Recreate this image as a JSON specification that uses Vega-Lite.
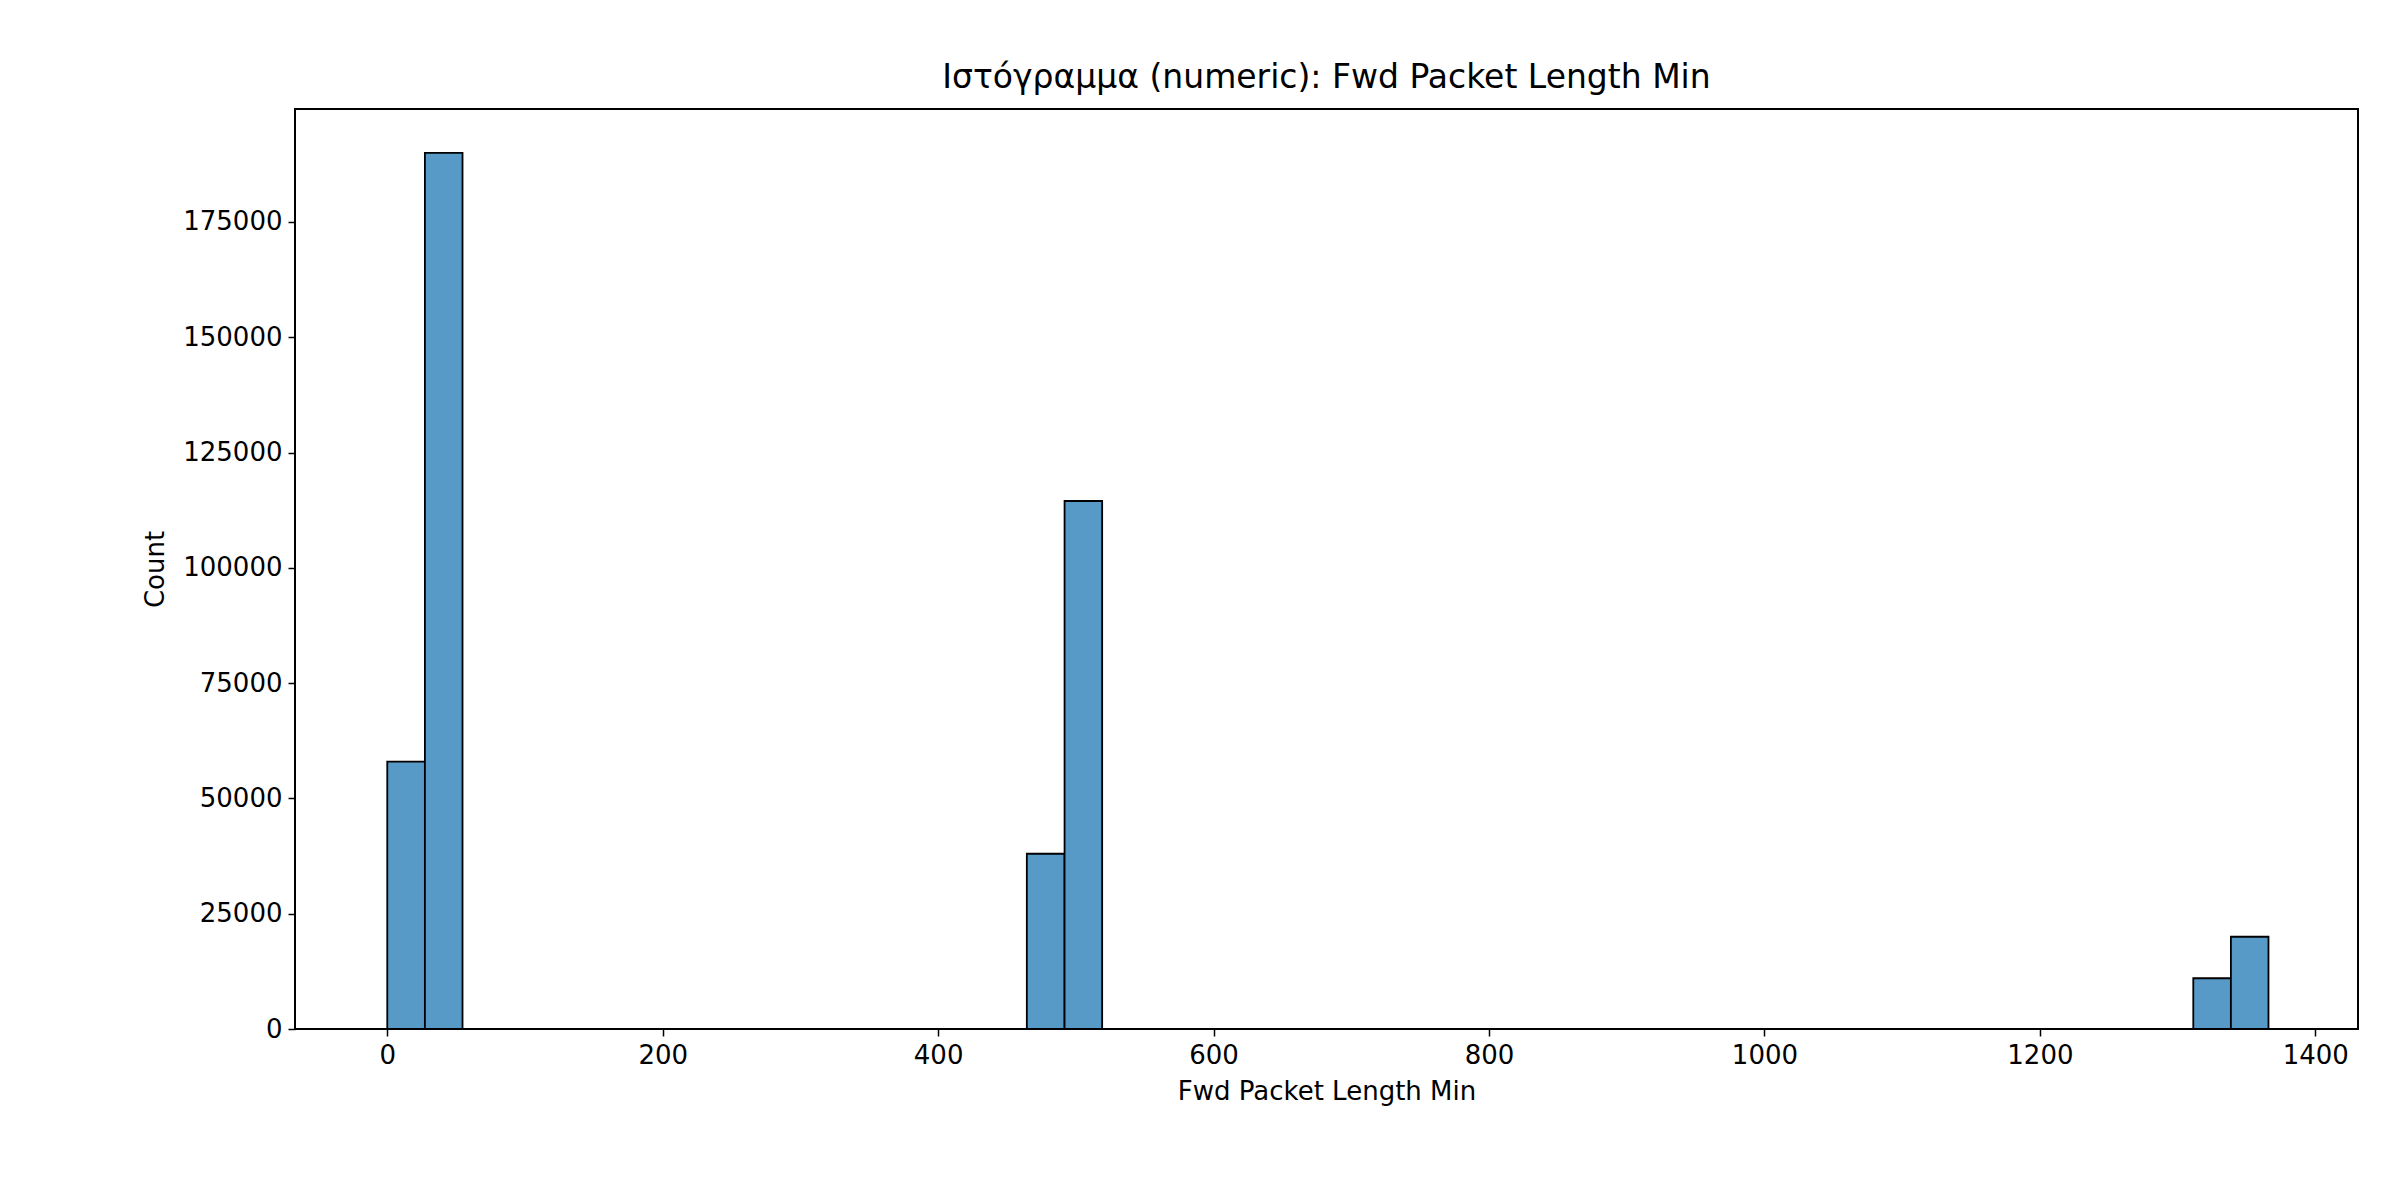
{
  "$schema": "https://vega.github.io/schema/vega-lite/v6.json",
  "width": 2063,
  "height": 920,
  "autosize": "none",
  "padding": {"left": 295, "top": 109, "right": 42, "bottom": 171},
  "background": "white",
  "title": {
    "text": "Ιστόγραμμα (numeric): Fwd Packet Length Min",
    "font": "DejaVu Sans",
    "fontSize": 33,
    "fontWeight": "normal",
    "color": "black",
    "offset": 14
  },
  "config": {
    "view": {"stroke": "black", "strokeWidth": 2},
    "axis": {
      "labelFont": "DejaVu Sans",
      "titleFont": "DejaVu Sans",
      "labelFontSize": 26,
      "titleFontSize": 26,
      "titleFontWeight": "normal",
      "labelColor": "black",
      "titleColor": "black",
      "tickColor": "black",
      "tickSize": 7,
      "tickWidth": 1.5,
      "grid": false,
      "domain": false
    }
  },
  "data": {
    "values": [
      {"start": 0, "end": 27.32, "count": 58000},
      {"start": 27.32, "end": 54.64, "count": 190000},
      {"start": 464.4, "end": 491.8, "count": 38000},
      {"start": 491.8, "end": 519.1, "count": 114500},
      {"start": 1311.4, "end": 1338.7, "count": 11000},
      {"start": 1338.7, "end": 1366, "count": 20000}
    ]
  },
  "mark": {"type": "bar", "fill": "#5799c7", "stroke": "black", "strokeWidth": 1.8},
  "encoding": {
    "x": {
      "field": "start",
      "type": "quantitative",
      "scale": {"domain": [-67, 1431], "nice": false, "zero": false},
      "axis": {"values": [0, 200, 400, 600, 800, 1000, 1200, 1400], "format": "d", "title": "Fwd Packet Length Min", "labelPadding": 6, "titlePadding": 10}
    },
    "x2": {"field": "end"},
    "y": {
      "field": "count",
      "type": "quantitative",
      "scale": {"domain": [0, 199500], "nice": false},
      "axis": {"values": [0, 25000, 50000, 75000, 100000, 125000, 150000, 175000], "format": "d", "title": "Count", "labelPadding": 6, "titlePadding": 14}
    },
    "y2": {"datum": 0}
  }
}
